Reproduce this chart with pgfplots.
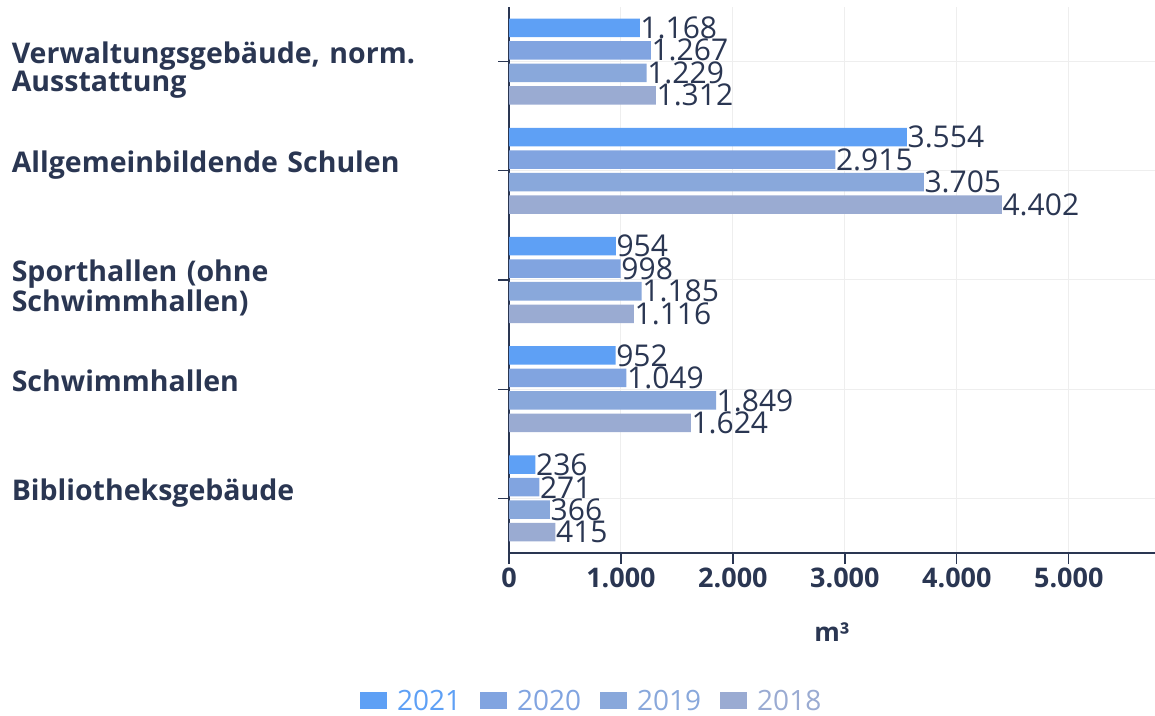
\documentclass[border=0pt]{standalone}
\usepackage{fontspec}
\setmainfont{Open Sans}
\usepackage{pgfplots}
\pgfplotsset{compat=1.18}
\definecolor{txt}{HTML}{2A3652}
\definecolor{c2021}{HTML}{5EA0F5}
\definecolor{c2020}{HTML}{81A4E0}
\definecolor{c2019}{HTML}{89A8DB}
\definecolor{c2018}{HTML}{9AABD2}
\definecolor{gridc}{HTML}{EEEEEE}
\begin{document}
\begin{tikzpicture}
\useasboundingbox (0,0) rectangle (1155pt,715pt);
\begin{axis}[
  at={(509pt,162pt)}, anchor=south west,
  scale only axis, width=646pt, height=546pt,
  xbar, bar width=18.5pt,
  xmin=0, xmax=5770, ymin=-0.5, ymax=4.5,
  ytick={0,1,2,3,4},
  yticklabels={Bibliotheksgebäude, Schwimmhallen, {Sporthallen (ohne\\Schwimmhallen)}, Allgemeinbildende Schulen, {Verwaltungsgebäude, norm.\\Ausstattung}},
  xtick={0,1000,...,5000},
  scaled x ticks=false,
  axis x line=bottom, axis y line=left,
  axis line style={draw=txt, line width=1.3pt, -},
  tick align=outside, major tick length=11pt,
  tick style={draw=txt, line width=1.3pt},
  xmajorgrids, ymajorgrids,
  grid style={draw=gridc, line width=1pt},
  /pgf/number format/.cd, 1000 sep={.}, assume math mode=true, /pgfplots/.cd,
  xticklabel style={font=\bfseries\fontsize{27}{27}\selectfont, text=txt},
  yticklabel style={font=\bfseries\fontsize{28.5}{28}\selectfont, text=txt, align=left, text width=486pt, anchor=base east, inner sep=0pt, yshift=-2pt},
  xlabel={m³},
  xlabel style={font=\bfseries\fontsize{26}{26}\selectfont, text=txt, at={(axis description cs:0.5,-0.145)}, anchor=center},
  nodes near coords,
  nodes near coords style={font=\fontsize{30}{30}\selectfont, text=txt, anchor=west, inner sep=0.5pt},
  legend columns=4,
  legend style={draw=none, fill=none, at={(axis description cs:0.128,-0.271)}, anchor=center,
    font=\fontsize{28}{28}\selectfont, inner ysep=0pt,
    nodes={inner ysep=1pt},
    /tikz/every even column/.append style={column sep=17pt},
    /tikz/every odd column/.append style={column sep=8pt}},
  legend image code/.code={\path[#1,draw=none] (0pt,-8.5pt) rectangle (27pt,8.5pt);},
]
\addplot[fill=c2021, draw=none, bar shift=33.75pt] coordinates {(1168,4) (3554,3) (954,2) (952,1) (236,0)};
\addlegendentry{\textcolor{c2021}{2021}}
\addplot[fill=c2020, draw=none, bar shift=11.25pt] coordinates {(1267,4) (2915,3) (998,2) (1049,1) (271,0)};
\addlegendentry{\textcolor{c2020}{2020}}
\addplot[fill=c2019, draw=none, bar shift=-11.25pt] coordinates {(1229,4) (3705,3) (1185,2) (1849,1) (366,0)};
\addlegendentry{\textcolor{c2019}{2019}}
\addplot[fill=c2018, draw=none, bar shift=-33.75pt] coordinates {(1312,4) (4402,3) (1116,2) (1624,1) (415,0)};
\addlegendentry{\textcolor{c2018}{2018}}
\end{axis}
\end{tikzpicture}
\end{document}
